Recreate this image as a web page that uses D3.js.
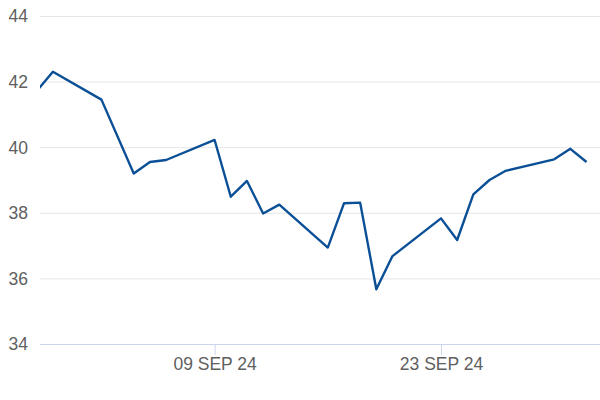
<!DOCTYPE html>
<html>
<head>
<meta charset="utf-8">
<script src="https://cdn.jsdelivr.net/npm/d3@7"></script>
<style>
  html, body { margin: 0; padding: 0; background: #fff; }
  svg { display: block; }
</style>
</head>
<body>
<svg id="chart" width="600" height="400"></svg>
<script>
const dates = [
  "2024-08-29","2024-08-30","2024-09-02","2024-09-04","2024-09-05","2024-09-06",
  "2024-09-09","2024-09-10","2024-09-11","2024-09-12","2024-09-13",
  "2024-09-16","2024-09-17","2024-09-18","2024-09-19","2024-09-20",
  "2024-09-23","2024-09-24","2024-09-25","2024-09-26","2024-09-27",
  "2024-09-30","2024-10-01","2024-10-02"
];
const values = [
  41.71, 42.30, 41.45, 39.20, 39.55, 39.61,
  40.22, 38.49, 38.97, 37.98, 38.25,
  36.94, 38.29, 38.31, 35.67, 36.68,
  37.83, 37.17, 38.56, 39.00, 39.28,
  39.63, 39.95, 39.55
];
const yTicks = [34, 36, 38, 40, 42, 44];
const xTickDates = ["2024-09-09", "2024-09-23"];
const xDomain = ["2024-08-29T04:50", "2024-10-02T20:00"];

const parse = s => new Date(s.length > 10 ? s : s + "T00:00");
const data = dates.map((d, i) => ({ date: parse(d), value: values[i] }));

const svg = d3.select("#chart");
const margin = { left: 40, right: 0, top: 16, bottom: 56 };
const W = 600, H = 400;
const font = "Liberation Sans, Arial, sans-serif";

const x = d3.scaleTime()
  .domain(xDomain.map(parse))
  .range([margin.left, W - margin.right]);
const y = d3.scaleLinear()
  .domain([34, 44])
  .range([H - margin.bottom, margin.top]);

// gridlines
svg.append("g")
  .selectAll("line")
  .data(yTicks.filter(t => t !== 34))
  .join("line")
  .attr("x1", margin.left).attr("x2", W)
  .attr("y1", d => y(d) + 0.5).attr("y2", d => y(d) + 0.5)
  .attr("stroke", "#e6e6e6").attr("stroke-width", 1);

// y labels
svg.append("g")
  .selectAll("text")
  .data(yTicks)
  .join("text")
  .attr("x", 28)
  .attr("y", d => y(d))
  .attr("dy", "0.36em")
  .attr("text-anchor", "end")
  .attr("font-family", font)
  .attr("font-size", 17.5)
  .attr("fill", "#606060")
  .text(d => d);

// x axis line
svg.append("line")
  .attr("x1", margin.left).attr("x2", W)
  .attr("y1", y(34) + 0.5).attr("y2", y(34) + 0.5)
  .attr("stroke", "#ccd6eb").attr("stroke-width", 1);

// x ticks
const xAxis = d3.axisBottom(x)
  .tickValues(xTickDates.map(parse))
  .tickSize(11)
  .tickPadding(3)
  .tickFormat(d => d3.timeFormat("%d %b %y")(d).toUpperCase());
const gx = svg.append("g")
  .attr("transform", `translate(0,${y(34)})`)
  .call(xAxis);
gx.select(".domain").remove();
gx.selectAll(".tick line").attr("stroke", "#ccd6eb");
gx.selectAll(".tick text")
  .attr("font-family", font)
  .attr("font-size", 17.5)
  .attr("fill", "#606060");

// clip
svg.append("clipPath").attr("id", "clip")
  .append("rect")
  .attr("x", margin.left).attr("y", 0)
  .attr("width", W - margin.left).attr("height", H);

const line = d3.line()
  .x(d => x(d.date))
  .y(d => y(d.value));

svg.append("path")
  .datum(data)
  .attr("clip-path", "url(#clip)")
  .attr("d", line)
  .attr("fill", "none")
  .attr("stroke", "#0b4f96")
  .attr("stroke-width", 2.4)
  .attr("stroke-linejoin", "round");
</script>
</body>
</html>
